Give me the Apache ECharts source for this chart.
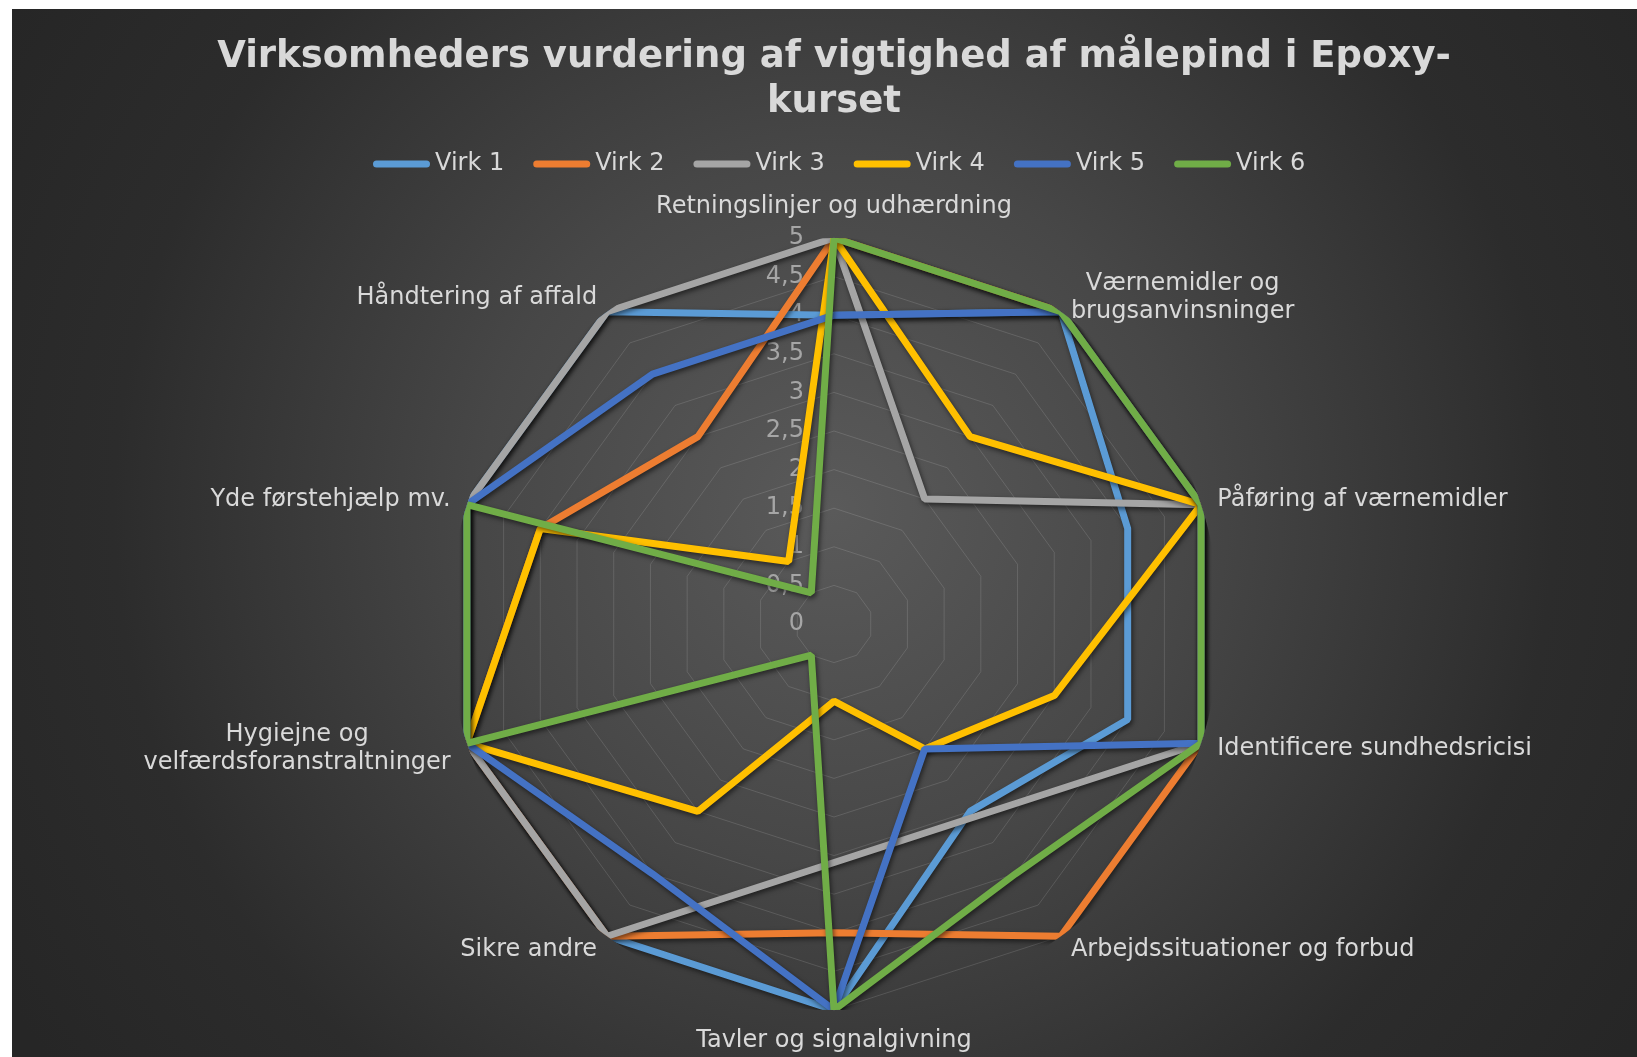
<!DOCTYPE html>
<html>
<head>
<meta charset="utf-8">
<title>Virksomheders vurdering af vigtighed af målepind i Epoxy-kurset</title>
<script src="https://cdn.jsdelivr.net/npm/echarts@6/dist/echarts.min.js"></script>
<style>
  html, body { margin: 0; padding: 0; background: #fff; }
  #chart {
    position: absolute;
    left: 12px;
    top: 9px;
    width: 1625px;
    height: 1048px;
    background: radial-gradient(circle at 822px 501px, #5a5a5a 0px, #474747 352px, #2c2c2c 720px, #262626 960px);
  }
</style>
</head>
<body>
<div id="chart"></div>
<script>
// kategorier i Excel-rækkefølge (med uret fra toppen)
const categories = [
  'Retningslinjer og udhærdning',
  'Værnemidler og\nbrugsanvinsninger',
  'Påføring af værnemidler',
  'Identificere sundhedsricisi',
  'Arbejdssituationer og forbud',
  'Tavler og signalgivning',
  'Sikre andre',
  'Hygiejne og\nvelfærdsforanstraltninger',
  'Yde førstehjælp mv.',
  'Håndtering af affald'
]
const seriesNames = ['Virk 1', 'Virk 2', 'Virk 3', 'Virk 4', 'Virk 5', 'Virk 6']
const virk1 = [4, 5, 4, 4, 3, 5, 5, 5, 5, 5]
const virk2 = [5, 5, 5, 5, 5, 4, 5, 5, 4, 3]
const virk3 = [5, 2, 5, 5, null, null, 5, 5, 5, 5] // tomme celler, forbindes med linje
const virk4 = [5, 3, 5, 3, 2, 1, 3, 5, 4, 1]
const virk5 = [4, 5, 5, 5, 2, 5, 4, 5, 5, 4]
const virk6 = [5, 5, 5, 5, 4, 5, 0.5, 5, 5, 0.5]
const tickLabels = ['0', '0,5', '1', '1,5', '2', '2,5', '3', '3,5', '4', '4,5', '5']
const colors = ['#5B9BD5', '#ED7D31', '#A5A5A5', '#FFC000', '#4472C4', '#70AD47']

const allValues = [virk1, virk2, virk3, virk4, virk5, virk6]
const font = 'DejaVu Sans'
const center = [822, 615]
const radius = 386

// radar går mod uret, så rækkefølgen vendes (første akse bliver i toppen)
const radarOrder = [0].concat(categories.map((_, i) => i).slice(1).reverse())

// [radius, vinkel] punkter, lukket polygon; tomme værdier springes over
function toPolar(values) {
  const pts = []
  values.forEach((v, i) => {
    if (v !== null) pts.push([v, i])
  })
  pts.push([values[0], values.length])
  return pts
}

const chart = echarts.init(document.getElementById('chart'))
chart.setOption({
  animation: false,
  color: colors,
  title: {
    text: 'Virksomheders vurdering af vigtighed af målepind i Epoxy-\nkurset',
    left: center[0],
    textAlign: 'center',
    top: 26,
    padding: 0,
    textStyle: {
      fontFamily: font,
      fontSize: 37,
      fontWeight: 'bold',
      color: '#d9d9d9',
      lineHeight: 45
    }
  },
  legend: {
    data: seriesNames,
    left: 356,
    top: 138,
    itemWidth: 57,
    itemHeight: 7,
    itemGap: 29,
    icon: 'path://M3.5,0 H53.5 A3.5,3.5 0 0 1 53.5,7 H3.5 A3.5,3.5 0 0 1 3.5,0 Z',
    itemStyle: { borderWidth: 0 },
    textStyle: { fontFamily: font, fontSize: 24, color: '#d9d9d9' }
  },
  radar: {
    center: center,
    radius: radius,
    startAngle: 90,
    shape: 'polygon',
    splitNumber: 10,
    nameGap: 17,
    indicator: radarOrder.map((i) => ({ name: categories[i], min: 0, max: 5 })),
    axisName: {
      formatter: (name) => name.split('\n').map((l) => '{c|' + l + '}').join('\n'),
      rich: {
        c: { align: 'center', fontFamily: font, fontSize: 24, color: '#d9d9d9', lineHeight: 28 }
      }
    },
    axisLine: { show: false },
    axisTick: { show: false },
    axisLabel: { show: false },
    splitArea: { show: false },
    splitLine: { lineStyle: { color: 'rgba(255,255,255,0.13)', width: 1 } },
    z: 0
  },
  polar: { center: center, radius: radius },
  angleAxis: {
    type: 'value',
    min: 0,
    max: categories.length,
    startAngle: 90,
    clockwise: true,
    show: false
  },
  radiusAxis: {
    type: 'value',
    min: 0,
    max: 5,
    interval: 0.5,
    axisLine: { show: false },
    axisTick: { show: false },
    splitLine: { show: false },
    axisLabel: {
      formatter: (v, i) => tickLabels[i],
      margin: 30,
      fontFamily: font,
      fontSize: 24,
      color: '#a6a6a6'
    },
    z: 1
  },
  series: allValues.map((vals, k) => ({
    name: seriesNames[k],
    type: 'line',
    coordinateSystem: 'polar',
    symbol: 'none',
    data: toPolar(vals),
    lineStyle: {
      color: colors[k],
      width: 7,
      shadowColor: 'rgba(0,0,0,0.55)',
      shadowBlur: 5,
      shadowOffsetX: 1.5,
      shadowOffsetY: 2.5
    },
    itemStyle: { color: colors[k] },
    z: 2
  }))
})
</script>
</body>
</html>
